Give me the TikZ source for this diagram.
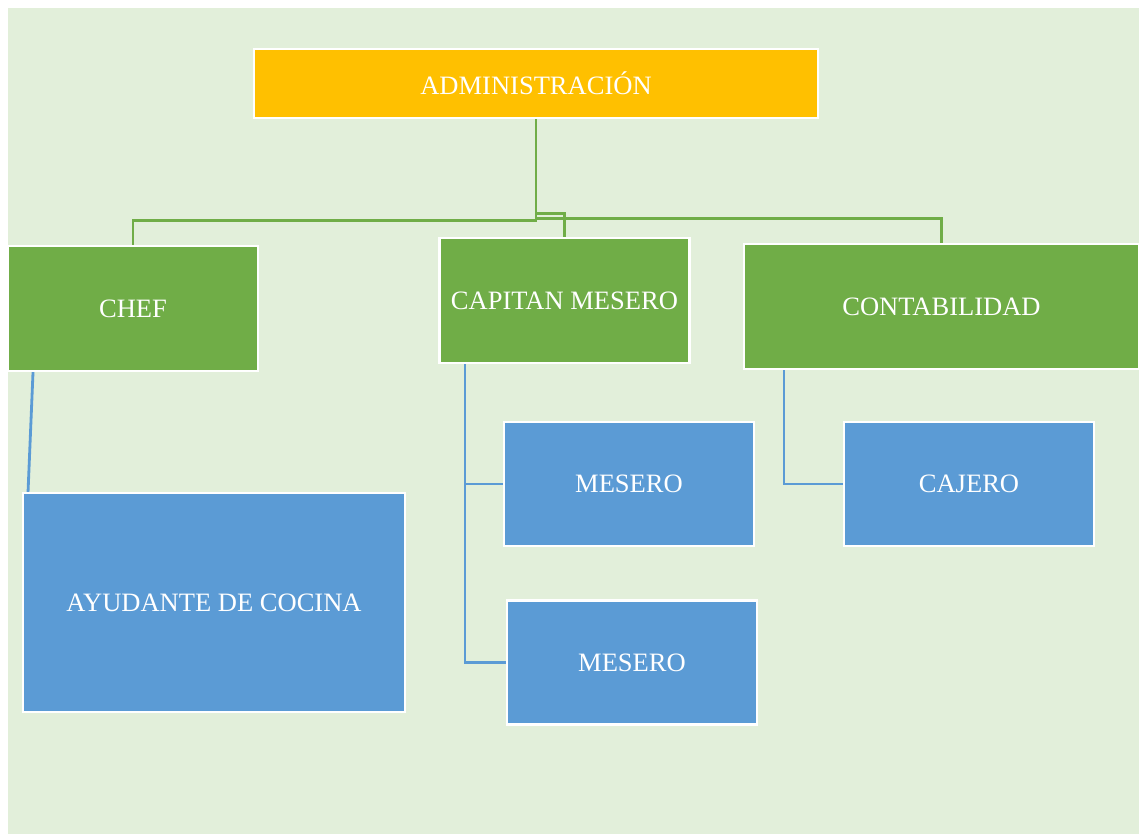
\documentclass[tikz,border=0pt]{standalone}
\usepackage{fontspec}
\setmainfont{Liberation Serif}
\usetikzlibrary{positioning,calc}

\definecolor{bgpale}{HTML}{E2EFDA}
\definecolor{gold}{HTML}{FFC000}
\definecolor{leaf}{HTML}{70AD47}
\definecolor{sky}{HTML}{5B9BD5}

\begin{document}
\begin{tikzpicture}[
  x=0.02cm, y=-0.02cm,
  every node/.style={font=\fontsize{15.1}{17}\selectfont, text=white},
  box/.style={draw=white, line width=1.3pt, align=center, inner sep=2pt},
  top/.style={box, fill=gold, minimum width=11.28cm, minimum height=1.38cm},
  head/.style={box, fill=leaf, minimum width=5cm, minimum height=2.5cm},
  staff/.style={box, fill=sky, minimum width=5cm, minimum height=2.48cm},
  grn/.style={draw=leaf, line width=1.6pt},
  blu/.style={draw=sky, line width=1.6pt},
]
\useasboundingbox (0,0) rectangle (1139,834);
\fill[bgpale] (8,8) rectangle (1139,834);

\node[top] (admin) at (536,83.5) {ADMINISTRACIÓN};
\node[head] (chef) at (133,308.5) {CHEF};
\node[head] (capitan) at (564.5,300.5) {CAPITAN MESERO};
\node[head, minimum width=7.9cm] (conta) at (941.5,306.5) {CONTABILIDAD};
\node[staff, minimum width=7.64cm, minimum height=4.38cm] (ayudante) at (214,602.5) {AYUDANTE DE COCINA};
\node[staff] (mesero1) at (629,484) {MESERO};
\node[staff] (mesero2) at (632,662.5) {MESERO};
\node[staff] (cajero) at (969,484) {CAJERO};

\draw[grn] (admin.south) -- ++(0,101) -| (chef.north);
\draw[grn] (admin.south) ++(0,94) -| (capitan.north);
\draw[grn] (admin.south) ++(0,99.5) -| (conta.north);

\draw[blu] ([xshift=-2cm]chef.south) -- ([xshift=-3.72cm]ayudante.north);
\draw[blu] ([xshift=-1.99cm]capitan.south) |- (mesero1.west);
\draw[blu] ([xshift=-1.99cm]capitan.south) |- (mesero2.west);
\draw[blu] ([xshift=-3.15cm]conta.south) |- (cajero.west);
\end{tikzpicture}
\end{document}
